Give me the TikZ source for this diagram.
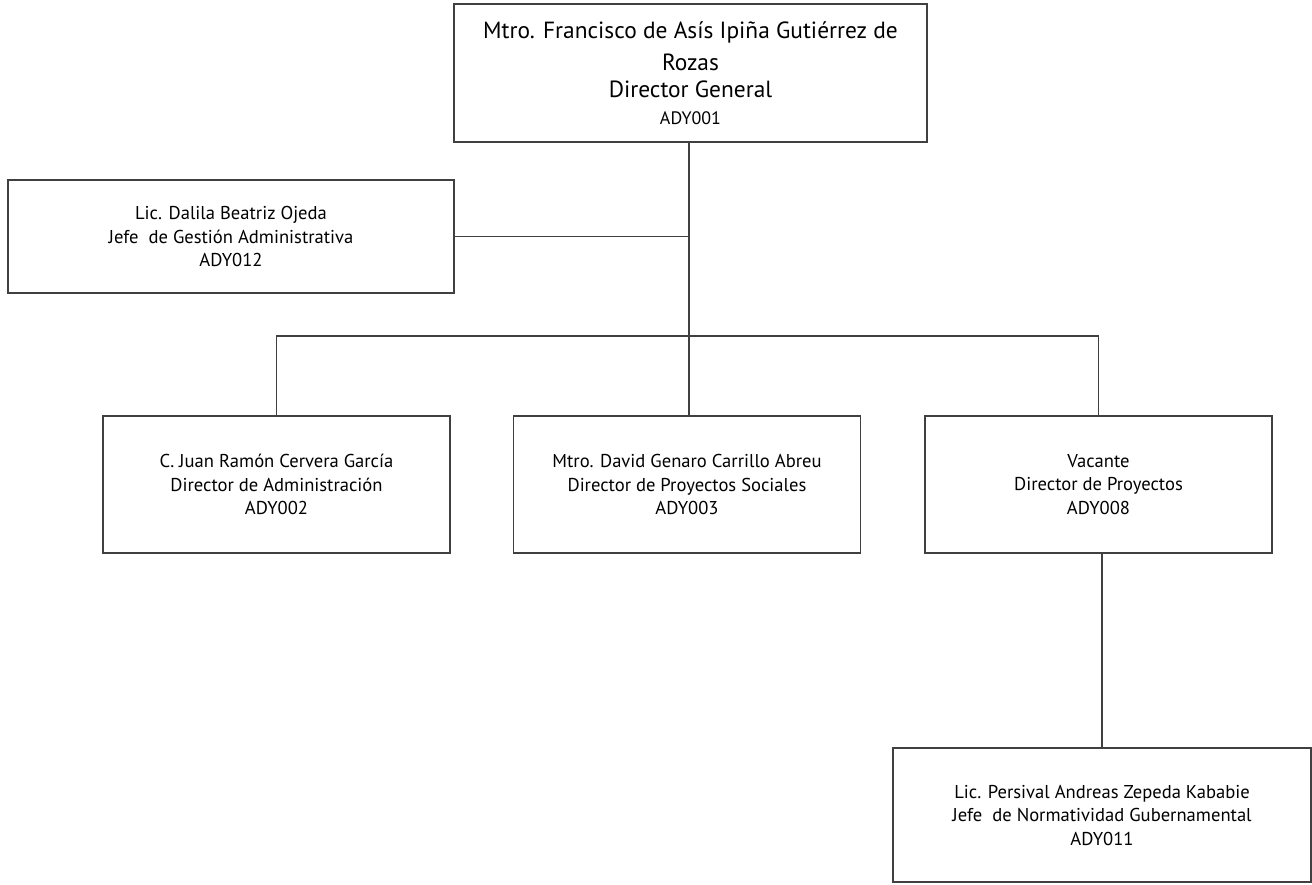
\documentclass[tikz,border=0pt]{standalone}
\usepackage{fontspec}
\setmainfont{PT Sans}

\begin{document}
\begin{tikzpicture}[
  x = 1pt, y = -1pt,
  box/.style = {draw = black!75, line width = 1.1pt, align = center,
                inner sep = 0pt, font = \fontsize{18.6}{23.5}\selectfont},
  small box/.style = {box, minimum width = 347pt, minimum height = 137pt},
  link/.style = {draw = black!75, line width = 1.1pt},
  ]
  \useasboundingbox (0,0) rectangle (1312,884);
  \node[box, minimum width = 473pt, minimum height = 138pt,
        font = \fontsize{23.4}{27}\selectfont] (dg) at (690.5,73)
    {Mtro. Francisco de Asís Ipiña Gutiérrez de\\[5pt]
     Rozas\\
     Director General\\
     {\fontsize{18}{20}\selectfont ADY001}};
  \node[box, minimum width = 446pt, minimum height = 113pt] (ga) at (231,236.5)
    {Lic. Dalila Beatriz Ojeda\\ Jefe\ \ de Gestión Administrativa\\ ADY012};
  \node[small box] (da) at (276.5,484.5)
    {C. Juan Ramón Cervera García\\ Director de Administración\\ ADY002};
  \node[small box] (ps) at (687,484.5)
    {Mtro. David Genaro Carrillo Abreu\\ Director de Proyectos Sociales\\ ADY003};
  \node[small box] (dp) at (1098.5,484.5)
    {Vacante\\ Director de Proyectos\\ ADY008};
  \node[box, minimum width = 418pt, minimum height = 134pt] (ng) at (1102,815)
    {Lic. Persival Andreas Zepeda Kababie\\ Jefe\ \ de Normatividad Gubernamental\\ ADY011};

  % lines
  \coordinate (bus) at (689,336);
  \draw[link] (dg.south -| bus) -- (ps.north -| bus);
  \draw[link] (ga.east) -- (ga.east -| bus);
  \draw[link] (da.north) |- (bus) -| (dp.north);
  \draw[link] (dp.south -| ng.north) -- (ng.north);
\end{tikzpicture}
\end{document}
